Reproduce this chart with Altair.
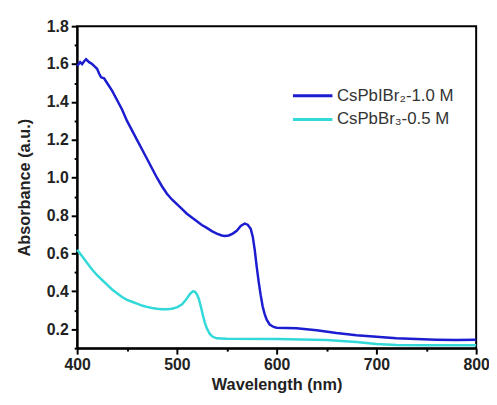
import altair as alt
import pandas as pd

blue_wl = [400, 403, 405, 407, 409, 412, 415, 418, 420, 422, 424, 427, 430, 435, 440, 445, 450, 455, 460, 465,
           470, 475, 480, 485, 490, 495, 500, 505, 510, 515, 520, 525, 530, 535, 540, 545, 548, 552, 556, 560,
           564, 568, 571, 574, 576, 578, 580, 582, 584, 586, 588, 590, 593, 597, 600, 620, 640, 660, 680, 700,
           720, 740, 760, 780, 800]
blue_ab = [1.59, 1.61, 1.60, 1.615, 1.625, 1.61, 1.60, 1.585, 1.575, 1.55, 1.53, 1.525, 1.50, 1.46, 1.41, 1.36,
           1.30, 1.25, 1.20, 1.15, 1.10, 1.05, 1.00, 0.955, 0.915, 0.885, 0.86, 0.835, 0.81, 0.79, 0.77, 0.75,
           0.735, 0.718, 0.705, 0.695, 0.692, 0.695, 0.705, 0.72, 0.745, 0.758, 0.752, 0.73, 0.69, 0.62, 0.53,
           0.45, 0.38, 0.32, 0.28, 0.25, 0.225, 0.212, 0.208, 0.205, 0.195, 0.18, 0.168, 0.16, 0.152, 0.148,
           0.145, 0.143, 0.145]

cyan_wl = [400, 405, 410, 415, 420, 425, 430, 435, 440, 445, 450, 455, 460, 465, 470, 475, 480, 485, 490, 495,
           500, 505, 509, 513, 516, 518, 520, 522, 524, 526, 528, 530, 533, 536, 540, 550, 600, 650, 680, 700,
           720, 750, 800]
cyan_ab = [0.62, 0.585, 0.55, 0.515, 0.485, 0.46, 0.435, 0.41, 0.39, 0.37, 0.355, 0.345, 0.335, 0.325, 0.318,
           0.312, 0.308, 0.306, 0.306, 0.308, 0.315, 0.33, 0.355, 0.385, 0.40, 0.398, 0.385, 0.36, 0.32, 0.275,
           0.235, 0.205, 0.175, 0.16, 0.152, 0.15, 0.148, 0.143, 0.132, 0.122, 0.117, 0.115, 0.115]

series_names = ["CsPbIBr\u2082-1.0 M", "CsPbBr\u2083-0.5 M"]
series_colors = ["#1c1cd0", "#33d8d8"]

df = pd.concat([
    pd.DataFrame({"wl": blue_wl, "ab": blue_ab, "series": series_names[0], "order": range(len(blue_wl))}),
    pd.DataFrame({"wl": cyan_wl, "ab": cyan_ab, "series": series_names[1], "order": range(len(cyan_wl))}),
])

x_ticks = [400, 450, 500, 550, 600, 650, 700, 750, 800]
y_ticks = [round(0.1 * i, 1) for i in range(1, 19)]

ymajor = "abs(datum.value*5 - round(datum.value*5)) < 0.01"
xmajor = "datum.value % 100 === 0"

chart = alt.Chart(df).mark_line(strokeWidth=2.5).encode(
    x=alt.X("wl:Q", scale=alt.Scale(domain=[400, 800], nice=False),
            axis=alt.Axis(title="Wavelength (nm)", values=x_ticks,
                          labelExpr=f"{xmajor} ? format(datum.value, 'd') : ''",
                          tickSize={"condition": {"test": xmajor, "value": 6}, "value": 3},
                          grid=False, labelFlush=False)),
    y=alt.Y("ab:Q", scale=alt.Scale(domain=[0.1, 1.8], nice=False, zero=False),
            axis=alt.Axis(title="Absorbance (a.u.)", values=y_ticks,
                          labelExpr=f"{ymajor} ? format(datum.value, '.1f') : ''",
                          tickSize={"condition": {"test": ymajor, "value": 6}, "value": 3},
                          grid=False, labelFlush=False)),
    color=alt.Color("series:N", scale=alt.Scale(domain=series_names, range=series_colors),
                    legend=alt.Legend(title=None, orient="none", legendX=217, legendY=59,
                                      symbolType="stroke", symbolSize=1600, symbolStrokeWidth=3,
                                      labelFont="Liberation Sans", labelFontSize=17,
                                      labelColor="#333333", rowPadding=1, clipHeight=23,
                                      labelOffset=3)),
    order="order:Q",
).properties(
    width=404, height=326,
    autosize=alt.AutoSizeParams(type="none"),
    padding={"left": 70, "top": 16, "right": 13, "bottom": 44},
).configure_view(
    stroke="black", strokeWidth=2
).configure_axis(
    domainColor="black", domainWidth=2, tickColor="black", tickWidth=2,
    labelFont="Liberation Sans", labelFontSize=16, labelFontWeight="bold", labelColor="#222222",
    titleFont="Liberation Sans", titleFontSize=16.5, titleFontWeight="bold", titleColor="#222222",
    labelPadding=3,
).configure_axisY(titlePadding=14).configure_axisX(titlePadding=4)

chart.save("out.html", embed_options={"renderer": "svg", "actions": False})
